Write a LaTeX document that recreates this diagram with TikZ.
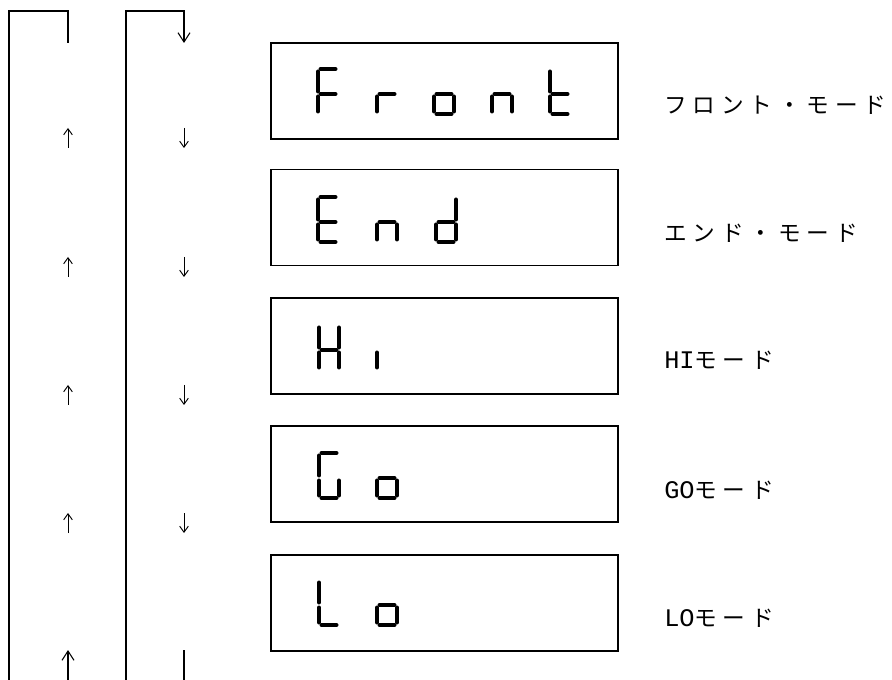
\documentclass[tikz,border=0pt]{standalone}
\usepackage{fontspec}
\newfontfamily\jpf{Noto Sans CJK JP}
\newfontfamily\monof{Liberation Mono}
\usetikzlibrary{arrows.meta}
\newcommand\jc[1]{\makebox[21.4pt][l]{#1}}
\newcommand\lc[1]{\makebox[11.25pt][l]{#1}}
% seven-segment pieces: #1 = left x, #2 = top y (pixel units)
\newcommand\segA[2]{\draw[segline] (#1+2.5,#2) -- (#1+17.5,#2);}
\newcommand\segB[2]{\draw[segline] (#1+20,#2+2.5) -- (#1+20,#2+22.5);}
\newcommand\segC[2]{\draw[segline] (#1+20,#2+27.5) -- (#1+20,#2+42.5);}
\newcommand\segD[2]{\draw[segline] (#1+2.5,#2+45) -- (#1+17.5,#2+45);}
\newcommand\segE[2]{\draw[segline] (#1,#2+27.5) -- (#1,#2+42.5);}
\newcommand\segF[2]{\draw[segline] (#1,#2+2.5) -- (#1,#2+22.5);}
\newcommand\segG[2]{\draw[segline] (#1+2.5,#2+25) -- (#1+17.5,#2+25);}
\newcommand\sevenseg[3]{\foreach \s in {#3}{\csname seg\s\endcsname{#1}{#2}}}
\begin{document}
\begin{tikzpicture}[x=0.75pt,y=-0.75pt,
  loopline/.style={line width=1pt},
  bigtip/.style={-{Straight Barb[length=7pt,width=9pt,line width=0.8pt]}},
  smallarr/.style={line width=0.7pt,-{Straight Barb[length=4.5pt,width=6.5pt,line width=0.7pt]}},
  dispbox/.style={draw,line width=1.2pt,minimum width=260.25pt,minimum height=72pt,inner sep=0pt},
  segline/.style={line width=3pt,line cap=round},
  lbl/.style={anchor=west,inner sep=0pt,font=\jpf\fontsize{17pt}{20pt}\selectfont}]
\useasboundingbox (0,0) rectangle (892,680);
% left loop (upward)
\coordinate (L0) at (9,680);
\coordinate (L1) at (9,11);
\coordinate (L2) at (68,11);
\coordinate (L3) at (68,43);
\draw[loopline] (L0) -- (L1) -- (L2) -- (L3);
% right loop (downward)
\coordinate (R0) at (126,680);
\coordinate (R1) at (126,11);
\coordinate (R2) at (184,11);
\coordinate (R3) at (184,43);
\draw[loopline,bigtip] (R0) -- (R1) -- (R2) -- (R3);
% small arrows
\foreach \i/\yy in {1/138,2/267,3/395,4/523}{
  \coordinate (us\i) at (68,\yy+10);
  \coordinate (ue\i) at (68,\yy-10);
  \draw[smallarr] (us\i) -- (ue\i);
  \coordinate (ds\i) at (184,\yy-10);
  \coordinate (de\i) at (184,\yy+10);
  \draw[smallarr] (ds\i) -- (de\i);
}
% bottom
\coordinate (UB0) at (68,680);
\coordinate (UB1) at (68,650);
\draw[loopline,bigtip] (UB0) -- (UB1);
\coordinate (DB0) at (184,650);
\coordinate (DB1) at (184,680);
\draw[loopline] (DB0) -- (DB1);
% display boxes
\node[dispbox] (b1) at (444.5,91) {};
\node[dispbox] (b2) at (444.5,217.5) {};
\node[dispbox] (b3) at (444.5,346) {};
\node[dispbox] (b4) at (444.5,474) {};
\node[dispbox] (b5) at (444.5,603) {};
% Front
\sevenseg{318}{69}{A,F,E,G}
\sevenseg{377}{69}{E,G}
\sevenseg{434}{69}{G,C,D,E}
\sevenseg{492}{69}{G,C,E}
\sevenseg{550}{69}{F,E,G,D}
% End
\sevenseg{318}{197}{A,F,E,D,G}
\sevenseg{377}{197}{G,C,E}
\sevenseg{436}{197}{B,C,G,E,D}
% Hi
\sevenseg{319}{325}{F,E,B,C,G}
\sevenseg{377}{325}{E}
% Go
\sevenseg{319}{453}{A,F,E,D,C}
\sevenseg{377}{453}{G,C,D,E}
% Lo
\sevenseg{319}{580}{F,E,D}
\sevenseg{377}{580}{G,C,D,E}
% labels
\node[lbl] (l1) at (664,105) {\jc{フ}\jc{ロ}\jc{ン}\jc{ト}\jc{・}\jc{モ}\jc{ー}\jc{ド}};
\node[lbl] (l2) at (664,233) {\jc{エ}\jc{ン}\jc{ド}\jc{・}\jc{モ}\jc{ー}\jc{ド}};
\node[lbl] (l3) at (664,360) {{\monof\fontsize{19pt}{20pt}\selectfont\lc{H}\lc{I}}\jc{モ}\jc{ー}\jc{ド}};
\node[lbl] (l4) at (664,490) {{\monof\fontsize{19pt}{20pt}\selectfont\lc{G}\lc{O}}\jc{モ}\jc{ー}\jc{ド}};
\node[lbl] (l5) at (664,618) {{\monof\fontsize{19pt}{20pt}\selectfont\lc{L}\lc{O}}\jc{モ}\jc{ー}\jc{ド}};
\end{tikzpicture}
\end{document}
